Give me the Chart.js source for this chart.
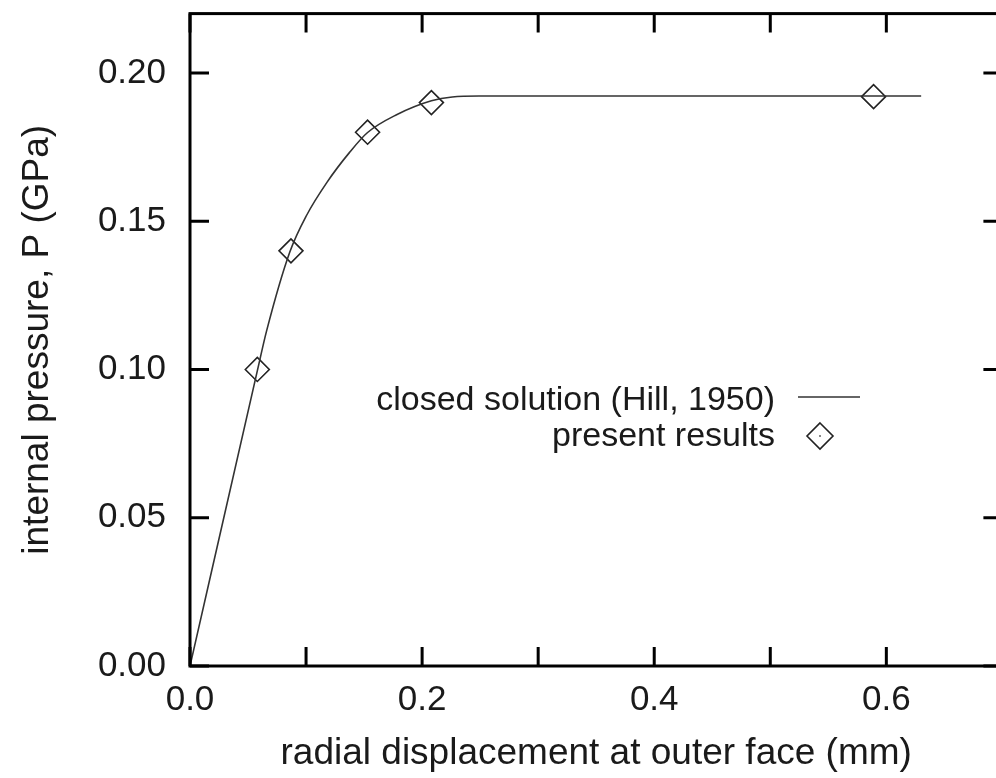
<!DOCTYPE html>
<html>
<head>
<meta charset="utf-8">
<script src="https://cdn.jsdelivr.net/npm/chart.js@4/dist/chart.umd.min.js"></script>
<style>
  html, body { margin: 0; padding: 0; background: #fff; overflow: hidden; }
  /* plot frame runs a little past the right edge of the window, as in the picture */
  #wrap { position: relative; width: 1016px; height: 778px; }
</style>
</head>
<body>
<div id="wrap"><canvas id="pressureChart"></canvas></div>
<script>
// ==== Data ====
// closed solution (Hill, 1950)
const curveX = [0, 0.058, 0.066, 0.086, 0.1005, 0.118, 0.1375, 0.153, 0.178, 0.208, 0.226, 0.249, 0.630];
const curveY = [0, 0.0995, 0.1130, 0.1396, 0.1520, 0.1631, 0.1732, 0.1799, 0.1859, 0.1906, 0.1919, 0.1922, 0.1922];

// present results
const pointsX = [0.058, 0.087, 0.153, 0.208, 0.589];
const pointsY = [0.100, 0.140, 0.180, 0.190, 0.192];

// ==== Tick labels ====
const xTickLabels = ["0.0", "0.2", "0.4", "0.6"];
const yTickLabels = ["0.00", "0.05", "0.10", "0.15", "0.20"];

const FONT = "'Liberation Sans', Arial, Helvetica, sans-serif";
const INK = "#1a1a1a";
const TICK = 19;

const toXY = (xs, ys) => xs.map((x, i) => ({ x, y: ys[i] }));

// inward ticks on all four sides + the closed frame (gnuplot look)
const frameTicks = {
  id: "frameTicks",
  afterDatasetsDraw(chart) {
    const { ctx, chartArea: a, scales: { x, y } } = chart;
    ctx.save();
    ctx.strokeStyle = "#000";
    ctx.lineWidth = 3;
    ctx.beginPath();
    x.ticks.forEach(t => {
      const px = x.getPixelForValue(t.value);
      ctx.moveTo(px, a.bottom); ctx.lineTo(px, a.bottom - TICK);
      ctx.moveTo(px, a.top);    ctx.lineTo(px, a.top + TICK);
    });
    y.ticks.forEach(t => {
      const py = y.getPixelForValue(t.value);
      ctx.moveTo(a.left, py);  ctx.lineTo(a.left + TICK, py);
      ctx.moveTo(a.right, py); ctx.lineTo(a.right - TICK, py);
    });
    ctx.stroke();
    ctx.strokeRect(a.left, a.top, a.right - a.left, a.bottom - a.top);
    ctx.restore();
  }
};

// key inside the plot: right-aligned text, sample to the right
const keyBox = {
  id: "keyBox",
  afterDraw(chart) {
    const { ctx } = chart;
    const ds = chart.data.datasets;
    ctx.save();
    ctx.font = `34px ${FONT}`;
    ctx.fillStyle = INK;
    ctx.textAlign = "right";
    ctx.textBaseline = "alphabetic";
    ctx.fillText(ds[0].label, 775, 410);
    ctx.fillText(ds[1].label, 775, 446);

    ctx.strokeStyle = ds[0].borderColor;
    ctx.lineWidth = ds[0].borderWidth;
    ctx.beginPath();
    ctx.moveTo(798, 397); ctx.lineTo(860, 397);
    ctx.stroke();

    ctx.strokeStyle = ds[1].pointBorderColor;
    ctx.lineWidth = ds[1].pointBorderWidth;
    const cx = 820, cy = 436, r = 13;
    ctx.beginPath();
    ctx.moveTo(cx, cy - r); ctx.lineTo(cx + r, cy); ctx.lineTo(cx, cy + r); ctx.lineTo(cx - r, cy);
    ctx.closePath();
    ctx.stroke();
    ctx.fillStyle = "#888";
    ctx.fillRect(cx - 1, cy - 1, 2, 2);
    ctx.restore();
  }
};

new Chart(document.getElementById("pressureChart"), {
  type: "line",
  data: {
    datasets: [
      {
        label: "closed solution (Hill, 1950)",
        data: toXY(curveX, curveY),
        borderColor: "#333",
        borderWidth: 1.6,
        pointRadius: 0,
        cubicInterpolationMode: "monotone",
        fill: false
      },
      {
        label: "present results",
        data: toXY(pointsX, pointsY),
        showLine: false,
        pointStyle: "rectRot",
        pointRadius: 12,
        pointBorderWidth: 1.6,
        pointBorderColor: "#222",
        pointBackgroundColor: "rgba(0,0,0,0)"
      }
    ]
  },
  options: {
    responsive: true,
    maintainAspectRatio: false,
    animation: false,
    layout: { padding: { top: 10, right: 11, left: 0, bottom: 0 } },
    plugins: { legend: { display: false }, tooltip: { enabled: false } },
    scales: {
      x: {
        type: "linear",
        min: 0, max: 0.7,
        afterFit(scale) {
          scale.height = 112;
          scale.paddingLeft = 0; scale.paddingRight = 0;
        },
        grid: { display: false, drawTicks: false },
        border: { display: false },
        ticks: {
          stepSize: 0.1,
          includeBounds: false,
          padding: 13,
          color: INK,
          font: { family: FONT, size: 35 },
          maxRotation: 0,
          autoSkip: false,
          callback: v => xTickLabels.find(s => Math.abs(parseFloat(s) - v) < 1e-6) || ""
        },
        title: {
          display: true,
          text: "radial displacement at outer face (mm)",
          color: INK,
          font: { family: FONT, size: 37 },
          padding: { top: 0, bottom: 2 }
        }
      },
      y: {
        type: "linear",
        min: 0, max: 0.22,
        afterFit(scale) {
          scale.width = 190;
          scale.paddingTop = 0; scale.paddingBottom = 0;
        },
        grid: { display: false, drawTicks: false },
        border: { display: false },
        ticks: {
          stepSize: 0.05,
          includeBounds: false,
          padding: 24,
          color: INK,
          font: { family: FONT, size: 35 },
          autoSkip: false,
          callback: v => yTickLabels.find(s => Math.abs(parseFloat(s) - v) < 1e-6) || ""
        },
        title: {
          display: true,
          text: "internal pressure, P (GPa)",
          color: INK,
          font: { family: FONT, size: 37 },
          padding: { top: 16, bottom: 0 }
        }
      }
    }
  },
  plugins: [frameTicks, keyBox]
});
</script>
</body>
</html>
